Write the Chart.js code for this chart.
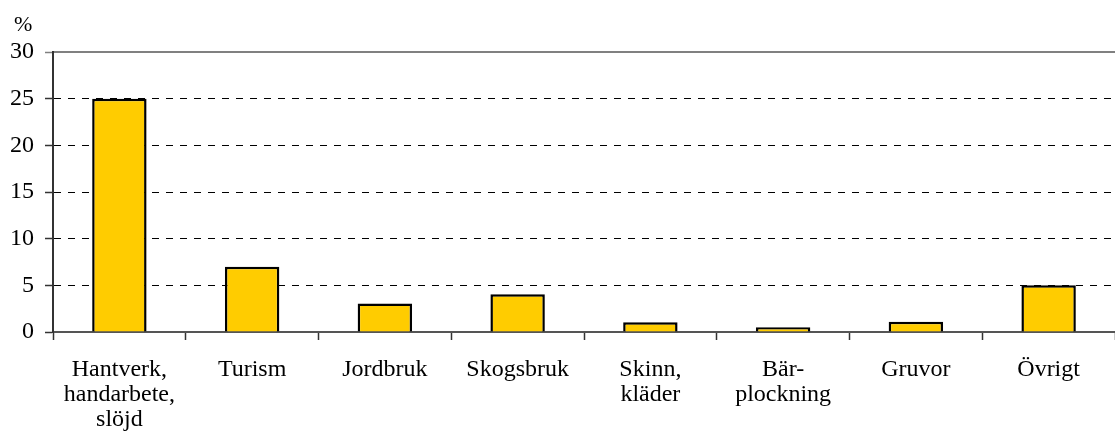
<!DOCTYPE html>
<html>
<head>
<meta charset="utf-8">
<script src="https://cdn.jsdelivr.net/npm/chart.js@4"></script>
<style>
  html, body { margin: 0; padding: 0; background: #fff; }
  #wrap { width: 1115px; height: 443px; position: relative; }
</style>
</head>
<body>
<div id="wrap"><canvas id="chart"></canvas></div>
<script>
// ===== Data =====
const categories = [
  ['Hantverk,', 'handarbete,', 'slöjd'],
  'Turism',
  'Jordbruk',
  'Skogsbruk',
  ['Skinn,', 'kläder'],
  ['Bär-', 'plockning'],
  'Gruvor',
  'Övrigt'
];
const shares = [25, 7, 3.05, 4.05, 1.05, 0.5, 1.1, 5];
const yMin = 0;
const yMax = 30;
const yStep = 5;
const unitLabel = '%';

// ===== Helpers =====
const serif = '"Liberation Serif", "Times New Roman", serif';

// draws the unit label above the y axis
const unitPlugin = {
  id: 'unitLabel',
  afterDraw(chart) {
    const { ctx } = chart;
    ctx.save();
    ctx.font = '22px ' + serif;
    ctx.fillStyle = '#000';
    ctx.textBaseline = 'middle';
    ctx.textAlign = 'left';
    ctx.fillText(unitLabel, 14, 25);
    ctx.restore();
  }
};

// ===== Chart =====
new Chart(document.getElementById('chart'), {
  type: 'bar',
  data: {
    labels: categories,
    datasets: [{
      data: shares,
      backgroundColor: '#FFCC00',
      borderColor: '#000',
      borderWidth: 2.5,
      borderSkipped: 'bottom',
      categoryPercentage: 1,
      barPercentage: 0.41
    }]
  },
  options: {
    responsive: true,
    maintainAspectRatio: false,
    animation: false,
    layout: { padding: { top: 52, right: 0, bottom: 0, left: 0 } },
    plugins: {
      legend: { display: false },
      tooltip: { enabled: false }
    },
    scales: {
      x: {
        position: 'bottom',
        grid: {
          display: true,
          offset: true,
          drawOnChartArea: false,
          drawTicks: true,
          tickLength: 8,
          tickColor: '#333',
          tickWidth: 1.5
        },
        border: { display: true, color: '#555', width: 2 },
        ticks: {
          color: '#000',
          font: { family: serif, size: 24, lineHeight: 1.05 },
          padding: 17,
          maxRotation: 0,
          minRotation: 0,
          autoSkip: false
        },
        afterFit(scale) { scale.height = 111; }
      },
      xTop: {
        type: 'category',
        position: 'top',
        grid: { display: false, drawTicks: false },
        border: { display: true, color: '#808080', width: 2 },
        ticks: { display: false },
        afterFit(scale) { scale.height = 0; }
      },
      y: {
        min: yMin,
        max: yMax,
        grid: {
          color: ctx => (ctx.tick && (ctx.tick.value === yMax || ctx.tick.value === yMin)) ? 'rgba(0,0,0,0)' : '#000',
          lineWidth: 1,
          drawTicks: true,
          tickLength: 8,
          tickColor: ctx => (ctx.tick && ctx.tick.value === yMax) ? '#808080' : '#333',
          tickWidth: 1.5,
          tickBorderDash: []
        },
        border: { display: true, color: '#333', width: 2, dash: [7, 7] },
        ticks: {
          stepSize: yStep,
          color: '#000',
          font: { family: serif, size: 24 },
          padding: 11
        },
        afterFit(scale) { scale.width = 53; }
      }
    }
  },
  plugins: [unitPlugin]
});
</script>
</body>
</html>
